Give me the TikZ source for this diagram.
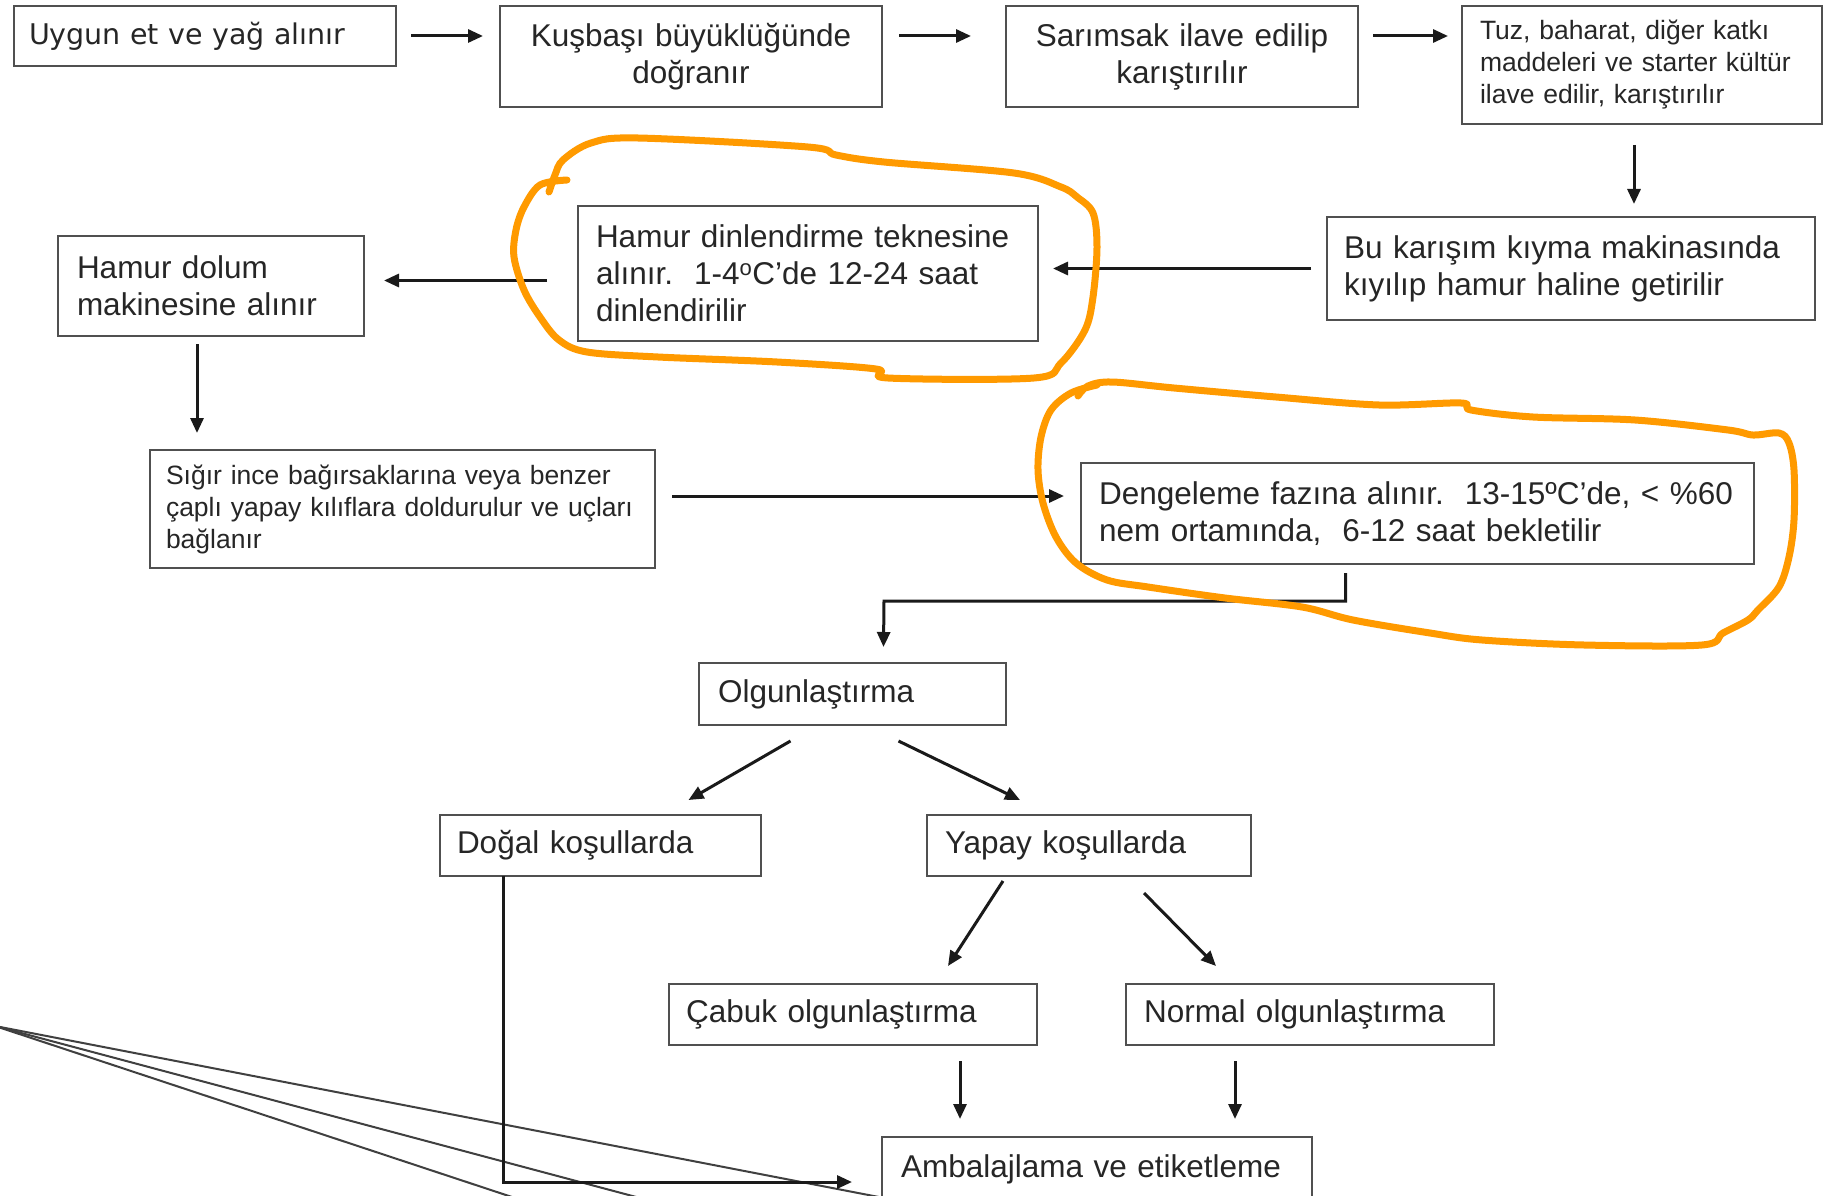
\documentclass[tikz,border=0pt]{standalone}
\usepackage{fontspec}
\setmainfont{Liberation Sans}
\newfontfamily\tahomaf{DejaVu Sans}
\usetikzlibrary{arrows.meta}
\definecolor{txt}{HTML}{262626}
\definecolor{bord}{HTML}{505050}
\definecolor{lin}{HTML}{1A1A1A}
\definecolor{orng}{HTML}{FF9A00}
\newcommand\mainsize{\fontsize{31.5pt}{37pt}\selectfont}
\newcommand\smallsz{\fontsize{26.5pt}{32pt}\selectfont}
\begin{document}
\begin{tikzpicture}[x=1pt,y=-1pt,
 box/.style={draw=bord, line width=2.4pt, fill=white, inner xsep=16pt, inner ysep=4pt, outer sep=0pt, anchor=north west, text=txt, align=left, font=\mainsize},
 arr/.style={draw=lin, line width=3pt, -{Triangle[length=15pt,width=13pt]}},
 loopline/.style={draw=orng, line width=7pt, line cap=round, line join=round},
 stray/.style={draw=black!75, line width=2pt}]
\useasboundingbox (0,0) rectangle (1824,1196);
\clip (0,0) rectangle (1824,1196);
\fill[white] (0,0) rectangle (1824,1196);

% stray lines
\coordinate (s0) at (-5,1026);
\coordinate (s1) at (884,1198);
\coordinate (s2) at (640,1198);
\coordinate (s3) at (515,1198);
\draw[stray] (s0) -- (s1);
\draw[stray] (s0) -- (s2);
\draw[stray] (s0) -- (s3);

% boxes
\node[box, minimum width=382pt, minimum height=60pt, text width=352pt, inner xsep=15pt, font=\tahomaf\fontsize{28.5pt}{34pt}\selectfont] (b1) at (14,6) {Uygun et ve yağ alınır};
\node[box, minimum width=382pt, minimum height=101pt, text width=350pt, align=center] (b2) at (500,6) {Kuşbaşı büyüklüğünde\\doğranır};
\node[box, minimum width=352pt, minimum height=101pt, text width=320pt, align=center] (b3) at (1006,6) {Sarımsak ilave edilip\\karıştırılır};
\node[box, minimum width=360pt, minimum height=118pt, text width=324pt, inner xsep=18pt, font=\smallsz] (b4) at (1462,6) {Tuz, baharat, diğer katkı\\maddeleri ve starter kültür\\ilave edilir, karıştırılır};
\node[box, minimum width=488pt, minimum height=103pt, text width=454pt, inner xsep=17pt] (b5) at (1327,217) {Bu karışım kıyma makinasında\\kıyılıp hamur haline getirilir};
\node[box, minimum width=460pt, minimum height=135pt, text width=424pt, inner xsep=18pt] (b6) at (578,206) {Hamur dinlendirme teknesine\\alınır.\ \ 1-4\textsuperscript{o}C’de 12-24 saat\\dinlendirilir};
\node[box, minimum width=306pt, minimum height=100pt, text width=268pt, inner xsep=19pt] (b7) at (58,236) {Hamur dolum\\makinesine alınır};
\node[box, minimum width=505pt, minimum height=118pt, text width=473pt, font=\smallsz] (b8) at (150,450) {Sığır ince bağırsaklarına veya benzer\\çaplı yapay kılıflara doldurulur ve uçları\\bağlanır};
\node[box, minimum width=673pt, minimum height=101pt, text width=637pt, inner xsep=18pt] (b9) at (1081,463) {Dengeleme fazına alınır.\ \ 13-15ºC’de, < \%60\\nem ortamında,\ \ 6-12 saat bekletilir};
\node[box, minimum width=307pt, minimum height=62pt, text width=269pt, inner xsep=19pt] (b10) at (699,663) {Olgunlaştırma};
\node[box, minimum width=321pt, minimum height=61pt, text width=287pt, inner xsep=17pt] (b11) at (440,815) {Doğal koşullarda};
\node[box, minimum width=324pt, minimum height=61pt, text width=288pt, inner xsep=18pt] (b12) at (927,815) {Yapay koşullarda};
\node[box, minimum width=368pt, minimum height=61pt, text width=334pt, inner xsep=17pt] (b13) at (669,984) {Çabuk olgunlaştırma};
\node[box, minimum width=368pt, minimum height=61pt, text width=332pt, inner xsep=18pt] (b14) at (1126,984) {Normal olgunlaştırma};
\node[box, minimum width=430pt, minimum height=64pt, text width=392pt, inner xsep=19pt] (b15) at (882,1137) {Ambalajlama ve etiketleme};

% connectors
\draw[arr, shorten <=15pt, shorten >=17pt] (b1.east) -- (b2.west |- b1.east);
\draw[arr, shorten <=17pt, shorten >=35pt] (b2.east |- b1.east) -- (b3.west |- b1.east);
\draw[arr, shorten <=15pt, shorten >=14pt] (b3.east |- b1.east) -- (b4.west |- b1.east);
\draw[arr, shorten <=21pt, shorten >=13pt] ([xshift=-8pt]b4.south) -- ([xshift=-8pt]b4.south |- b5.north);
\draw[arr, shorten <=16pt, shorten >=15pt] (b5.west) -- (b5.west -| b6.east);
\draw[arr, shorten <=31pt, shorten >=20pt] ([yshift=-7pt]b6.west) -- ([yshift=-7pt]b6.west -| b7.east);
\draw[arr, shorten <=8pt, shorten >=17pt] ([xshift=-14pt]b7.south) -- ([xshift=-14pt]b7.south |- b8.north);
\draw[arr, shorten <=17pt, shorten >=17pt] ([yshift=13pt]b8.east) -- ([yshift=13pt]b8.east -| b9.west);
\coordinate (bend) at (884,601);
\draw[arr] ([xshift=-72pt,yshift=-9pt]b9.south) |- (bend) -- ([xshift=31pt,yshift=16pt]b10.north);
\draw[arr] ([xshift=-62pt,yshift=-16pt]b10.south) -- ([xshift=88pt,yshift=15pt]b11.north);
\draw[arr] ([xshift=46pt,yshift=-16pt]b10.south) -- ([xshift=-69pt,yshift=15pt]b12.north);
\draw[arr] ([xshift=-86pt,yshift=-5pt]b12.south) -- ([xshift=95pt,yshift=18pt]b13.north);
\draw[arr] ([xshift=55pt,yshift=-17pt]b12.south) -- ([xshift=-94pt,yshift=18pt]b14.north);
\draw[arr] ([xshift=107pt,yshift=-16pt]b13.south) -- ([xshift=-137pt,yshift=18pt]b15.north);
\draw[arr] ([xshift=-75pt,yshift=-16pt]b14.south) -- ([xshift=138pt,yshift=18pt]b15.north);
\draw[arr] ([xshift=-97pt]b11.south) |- ([xshift=-30pt,yshift=-13pt]b15.west);

% orange hand-drawn loops
\draw[loopline] plot[smooth, tension=0.55] coordinates {
(567,180) (540,185) (524,207) (516,230) (514,257) (524,290) (540,317) (559,340) (587,352) (658,357) (777,362) (876,369) (888,378) (1034,378) (1061,363) (1085,330) (1093,297) (1097,247) (1093,213) (1077,197) (1061,187) (1014,173) (884,162) (836,155) (808,147) (638,138) (591,143) (563,160) (555,175) (549,192)};
\draw[loopline] plot[smooth, tension=0.55] coordinates {
(1097,385) (1071,393) (1051,410) (1041,437) (1038,470) (1043,503) (1056,537) (1076,563) (1107,580) (1148,587) (1225,598) (1302,607) (1353,620) (1430,633) (1482,640) (1584,645) (1702,645) (1723,633) (1748,620) (1758,610) (1779,587) (1789,557) (1794,520) (1794,470) (1789,443) (1779,433) (1753,435) (1728,430) (1635,420) (1533,417) (1471,410) (1461,403) (1379,405) (1276,397) (1174,388) (1112,382) (1088,386) (1078,396)};
\end{tikzpicture}
\end{document}
